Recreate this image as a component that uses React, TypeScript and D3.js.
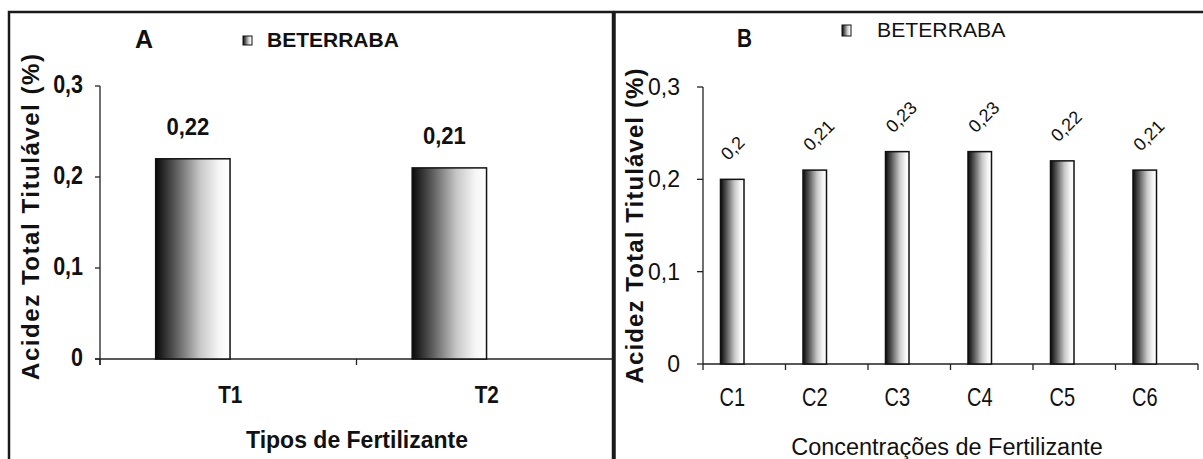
import React from "react";
import * as d3 from "d3";

const categoriesA = ["T1", "T2"];
const valuesA = [0.22, 0.21];
const labelsA = ["0,22", "0,21"];

const categoriesB = ["C1", "C2", "C3", "C4", "C5", "C6"];
const valuesB = [0.2, 0.21, 0.23, 0.23, 0.22, 0.21];
const labelsB = ["0,2", "0,21", "0,23", "0,23", "0,22", "0,21"];

const yTicks = [0, 0.1, 0.2, 0.3];
const yTickLabels = ["0", "0,1", "0,2", "0,3"];

const seriesName = "BETERRABA";
const yTitle = "Acidez Total Titulável (%)";
const xTitleA = "Tipos de Fertilizante";
const xTitleB = "Concentrações de Fertilizante";

const SANS = "'Liberation Sans', Arial, sans-serif";

type TProps = {
  x: number;
  y: number;
  size: number;
  bold?: boolean;
  sx?: number;
  anchor?: "start" | "middle" | "end";
  rotate?: number;
  children: React.ReactNode;
};

function T({ x, y, size, bold, sx = 1, anchor = "start", rotate = 0, children }: TProps) {
  return (
    <text
      transform={`translate(${x},${y}) rotate(${rotate}) scale(${sx},1)`}
      textAnchor={anchor}
      fontFamily={SANS}
      fontWeight={bold ? "bold" : "normal"}
      fontSize={size}
      fill="#111"
    >
      {children}
    </text>
  );
}

export default function App() {
  // Panel A scales
  const yA = d3.scaleLinear().domain([0, 0.3]).range([359, 86]);
  const xA = d3.scaleBand<string>().domain(categoriesA).range([100, 613]);
  const bwA = xA.bandwidth();

  // Panel B scales
  const yB = d3.scaleLinear().domain([0, 0.3]).range([364, 87]);
  const xB = d3.scaleBand<string>().domain(categoriesB).range([703, 1198]);
  const bwB = xB.bandwidth();

  const barOff = 0.212;
  const barW = 0.285;

  return (
    <svg width={1203} height={459} style={{ position: "absolute", left: 0, top: 0, background: "#fff" }}>
      <defs>
        <linearGradient id="gradBar" x1="0" y1="0" x2="1" y2="0">
          <stop offset="0" stopColor="#0a0a0a" />
          <stop offset="0.25" stopColor="#555" />
          <stop offset="0.6" stopColor="#c8c8c8" />
          <stop offset="0.85" stopColor="#f6f6f6" />
          <stop offset="1" stopColor="#ffffff" />
        </linearGradient>
      </defs>
      <rect x={0} y={0} width={1203} height={459} fill="#fff" />

      {/* Frames */}
      <rect x={9} y={12} width={604} height={470} fill="none" stroke="#1a1a1a" strokeWidth={2.5} />
      <rect x={614.5} y={12} width={620} height={470} fill="none" stroke="#1a1a1a" strokeWidth={2.5} />

      {/* ---------- Panel A ---------- */}
      <T x={135} y={48} size={25} bold>A</T>
      <rect x={243} y={36} width={9} height={9} fill="url(#gradBar)" stroke="#111" strokeWidth={1} />
      <T x={267} y={47} size={21} bold>{seriesName}</T>

      {/* y axis */}
      <line x1={100} x2={100} y1={yA(0.3)} y2={yA(0) + 6} stroke="#222" strokeWidth={1.3} />
      {yTicks.map((t, i) => (
        <g key={"ya" + i}>
          <line x1={95} x2={100} y1={yA(t)} y2={yA(t)} stroke="#222" strokeWidth={1.3} />
          <T x={83} y={yA(t) + 7} size={25} bold sx={0.86} anchor="end">{yTickLabels[i]}</T>
        </g>
      ))}
      {/* x axis */}
      <line x1={95} x2={613} y1={yA(0)} y2={yA(0)} stroke="#222" strokeWidth={1.3} />
      {categoriesA.map((c, i) => (
        <line key={"xta" + i} x1={xA(c)!} x2={xA(c)!} y1={yA(0)} y2={yA(0) + 6} stroke="#222" strokeWidth={1.3} />
      ))}
      {categoriesA.map((c, i) => {
        const x0 = xA(c)! + bwA * 0.217;
        const w = bwA * 0.29;
        const top = yA(valuesA[i]);
        return (
          <g key={"ba" + i}>
            <rect x={x0} y={top} width={w} height={yA(0) - top} fill="url(#gradBar)" stroke="#111" strokeWidth={1.5} />
            <T x={x0 + w / 2 - 5} y={top - 24} size={24} bold sx={0.92} anchor="middle">{labelsA[i]}</T>
            <T x={xA(c)! + bwA / 2 + 2} y={403} size={23} bold sx={0.9} anchor="middle">{c}</T>
          </g>
        );
      })}
      <T x={357} y={448} size={23} bold anchor="middle">{xTitleA}</T>
      <text
        transform={`translate(39,217) rotate(-90)`}
        textAnchor="middle"
        fontFamily={SANS}
        fontWeight="bold"
        fontSize={24}
        textLength={326}
        lengthAdjust="spacing"
        fill="#111"
      >
        {yTitle}
      </text>

      {/* ---------- Panel B ---------- */}
      <T x={737} y={47} size={26} bold sx={0.8}>B</T>
      <rect x={842} y={25} width={9} height={11} fill="url(#gradBar)" stroke="#111" strokeWidth={1} />
      <T x={877} y={37} size={20} sx={1.06}>{seriesName}</T>

      <line x1={703} x2={703} y1={yB(0.3)} y2={yB(0) + 6} stroke="#222" strokeWidth={1.3} />
      {yTicks.map((t, i) => (
        <g key={"yb" + i}>
          <line x1={697} x2={703} y1={yB(t)} y2={yB(t)} stroke="#222" strokeWidth={1.3} />
          <T x={680} y={yB(t) + 8} size={24} sx={0.96} anchor="end">{yTickLabels[i]}</T>
        </g>
      ))}
      <line x1={703} x2={1198} y1={yB(0)} y2={yB(0)} stroke="#222" strokeWidth={1.3} />
      {categoriesB.map((c, i) => (
        <line key={"xtb" + i} x1={xB(c)! + bwB} x2={xB(c)! + bwB} y1={yB(0)} y2={yB(0) + 6} stroke="#222" strokeWidth={1.3} />
      ))}
      {categoriesB.map((c, i) => {
        const x0 = xB(c)! + bwB * barOff;
        const w = bwB * barW;
        const cx = x0 + w / 2;
        const top = yB(valuesB[i]);
        return (
          <g key={"bb" + i}>
            <rect x={x0} y={top} width={w} height={yB(0) - top} fill="url(#gradBar)" stroke="#111" strokeWidth={1.5} />
            <T x={cx - 4} y={top - 18} size={18} rotate={-45}>{labelsB[i]}</T>
            <T x={cx} y={406} size={25} sx={0.8} anchor="middle">{c}</T>
          </g>
        );
      })}
      <T x={947} y={455} size={23} sx={1.02} anchor="middle">{xTitleB}</T>
      <text
        transform={`translate(643,226) rotate(-90)`}
        textAnchor="middle"
        fontFamily={SANS}
        fontWeight="bold"
        fontSize={24}
        textLength={315}
        lengthAdjust="spacing"
        fill="#111"
      >
        {yTitle}
      </text>
    </svg>
  );
}
